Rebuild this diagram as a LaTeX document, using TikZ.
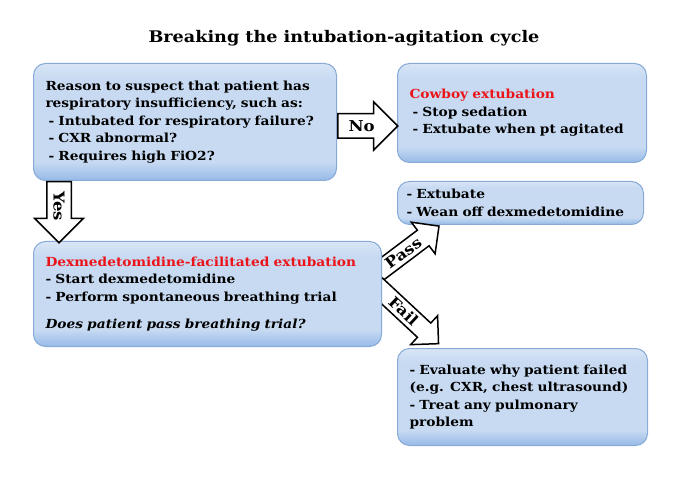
\documentclass[tikz,border=0pt]{standalone}
\usepackage{fontspec}
\setmainfont{DejaVu Serif}[FakeStretch=1.1]
\usetikzlibrary{shapes.arrows}
\definecolor{boxtop}{RGB}{216,229,246}
\definecolor{boxmid}{RGB}{199,218,242}
\definecolor{boxbot}{RGB}{150,186,231}
\definecolor{boxline}{RGB}{135,170,215}
\definecolor{alertred}{RGB}{235,20,25}
\pgfdeclareverticalshading{boxshade}{100bp}{color(0bp)=(boxbot); color(25bp)=(boxbot); color(33bp)=(boxmid); color(68bp)=(boxmid); color(75bp)=(boxtop); color(100bp)=(boxtop)}
\tikzset{>=stealth}
\tikzset{infobox/.style={draw=boxline, line width=1pt, rounded corners=12pt, shading=boxshade, anchor=north west, align=left, inner xsep=12pt, font=\fontsize{12.5}{17.5}\selectfont\bfseries}}
\tikzset{bigarrow/.style={single arrow, draw, fill=white, line width=1.5pt, single arrow head extend=12pt, text height=11pt, text depth=0pt, inner ysep=6pt, inner xsep=2pt, anchor=tail, font=\fontsize{15}{16}\selectfont\bfseries}}
\tikzset{thinarrow/.style={bigarrow, inner ysep=3.5pt, single arrow head extend=10pt}}

\begin{document}
\begin{tikzpicture}[x=1pt, y=-1pt]
    \useasboundingbox (0,0) rectangle (680,478);
    \node [font=\fontsize{16}{18}\selectfont\bfseries] (title) at (344,38) {Breaking the intubation-agitation cycle};
    % boxes
    \node [infobox, text width=279pt, minimum height=117pt] (reason) at (33,63) {Reason to suspect that patient has\\respiratory insufficiency, such as:\\\hspace{3pt}- Intubated for respiratory failure?\\\hspace{3pt}- CXR abnormal?\\\hspace{3pt}- Requires high FiO2?};
    \node [infobox, text width=225pt, minimum height=99pt] (cowboy) at (397,63) {\textcolor{alertred}{Cowboy extubation}\\\hspace{3pt}- Stop sedation\\\hspace{3pt}- Extubate when pt agitated};
    \node [infobox, text width=228pt, minimum height=43pt, inner xsep=9pt] (extubate) at (397,181) {- Extubate\\- Wean off dexmedetomidine};
    % pass / fail start under the box
    \coordinate (dexedge) at (381,293.5);
    \node [thinarrow, minimum height=80pt, rotate=37] (pass) at ([xshift=-6.5pt, yshift=18.8pt]dexedge) {Pass};
    \node [thinarrow, minimum height=86pt, rotate=-43] (fail) at ([xshift=-5.9pt, yshift=9pt]dexedge) {Fail};
    \node [infobox, text width=324pt, minimum height=105pt] (dex) at (33,241) {\textcolor{alertred}{Dexmedetomidine-facilitated extubation}\\- Start dexmedetomidine\\- Perform spontaneous breathing trial\\[10pt]\textit{Does patient pass breathing trial?}};
    \node [infobox, text width=226pt, minimum height=97pt] (evaluate) at (397,348) {- Evaluate why patient failed\\(e.g. CXR, chest ultrasound)\\- Treat any pulmonary\\problem};
    % arrows
    \node [bigarrow, minimum height=60pt] (no) at ([yshift=-4pt]reason.east) {No};
    \node [bigarrow, minimum height=61pt, rotate=-90] (yes) at ([xshift=26pt]reason.south west) {Yes};
\end{tikzpicture}
\end{document}
